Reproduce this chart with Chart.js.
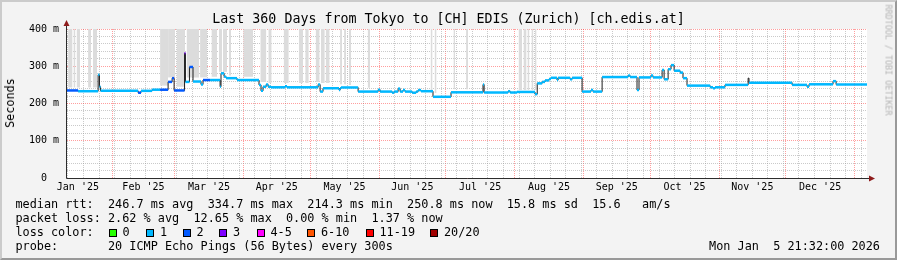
<!DOCTYPE html>
<html>
<head>
<meta charset="utf-8">
<script src="https://cdn.jsdelivr.net/npm/chart.js@4.4.1/dist/chart.umd.min.js"></script>
<style>
    html, body { margin: 0; padding: 0; background: #f3f3f3; }
    #wrap { position: relative; width: 897px; height: 260px; overflow: hidden; font-family: 'DejaVu Sans Mono', monospace; color: #000; }
    #frame { position: absolute; left: 0; top: 0; width: 897px; height: 260px; box-sizing: border-box; border: 2px solid; border-color: #cbcbcb #999 #999 #cbcbcb; pointer-events: none; }
    canvas { position: absolute; left: 0; top: 0; }
    .t { position: absolute; white-space: pre; font-size: 11.83px; line-height: 14px; }
    .box { position: absolute; width: 6px; height: 6px; border: 1px solid #000; }
    #title { position: absolute; left: 0; top: 11px; width: 897px; text-align: center; font-size: 13.3px; line-height: 16px; white-space: pre; }
    #ylabel { position: absolute; left: 9.5px; top: 103px; transform: translate(-50%, -50%) rotate(-90deg); font-size: 11.8px; line-height: 12px; white-space: pre; }
    #mark { position: absolute; left: 888px; top: 60px; transform: translate(-50%, -50%) rotate(90deg); font-size: 8.4px; line-height: 9px; color: #b4b4b4; white-space: pre; }
</style>
</head>
<body>
<div id="wrap">
    <canvas id="chart" width="897" height="260"></canvas>
    <div id="title">Last 360 Days from Tokyo to [CH] EDIS (Zurich) [ch.edis.at]</div>
    <div id="ylabel">Seconds</div>
    <div id="mark">RRDTOOL / TOBI OETIKER</div>

    <span class="t" style="left:15.4px;top:197px">median rtt:  246.7 ms avg  334.7 ms max  214.3 ms min  250.8 ms now  15.8 ms sd  15.6   am/s</span>
    <span class="t" style="left:15.4px;top:211px">packet loss: 2.62 % avg  12.65 % max  0.00 % min  1.37 % now</span>
    <span class="t" style="left:15.4px;top:225px">loss color:</span>
    <div id="lossKey"></div>
    <span class="t" style="left:15.4px;top:239px">probe:       20 ICMP Echo Pings (56 Bytes) every 300s</span>
    <span class="t" style="right:17px;top:239px">Mon Jan  5 21:32:00 2026</span>
    <div id="frame"></div>
</div>

<script>
// x axis is in days since 1 Jan 2025
const xMin = 10.6;
const xMax = 370.6;

const monthLabels = ["Jan '25", "Feb '25", "Mar '25", "Apr '25", "May '25", "Jun '25",
                     "Jul '25", "Aug '25", "Sep '25", "Oct '25", "Nov '25", "Dec '25"];
const monthStart = [0, 31, 59, 90, 120, 151, 181, 212, 243, 273, 304, 334, 365];
const firstSunday = 4;

// median rtt, one value per step (ms), held until the next step day
const stepDay = [10.6, 15.6, 24.6, 25.2, 25.7, 42.6, 43.9, 48.9, 52.5, 56.1, 57.9, 58.8, 63.5, 63.9, 65.7, 67.3,
    70.9, 71.8, 75.0, 79.5, 79.9, 81.3, 82.2, 87.1, 97.0, 97.9, 98.8, 100.2, 101.1, 102.4, 108.7, 109.6,
    123.6, 124.5, 125.8, 133.0, 133.5, 133.9, 141.6, 150.6, 151.5, 156.9, 157.8, 159.6, 160.5, 161.8, 162.7,
    165.9, 167.7, 168.6, 169.9, 175.3, 183.4, 197.8, 198.3, 209.1, 210.0, 213.1, 221.2, 222.2, 224.4, 225.7,
    227.5, 228.4, 231.1, 231.6, 237.0, 237.9, 242.4, 246.4, 247.3, 251.4, 263.1, 264.0, 267.1, 268.0, 273.4,
    274.3, 278.4, 279.3, 281.1, 282.4, 283.8, 286.5, 287.8, 289.6, 300.0, 301.3, 302.2, 306.7, 317.1, 317.5,
    336.9, 343.6, 344.5, 355.3, 356.7];
const medianMs = [235, 233, 277, 245, 234, 229, 234, 237, 237, 258, 268, 235, 335, 258, 298, 259,
    251, 263, 263, 245, 281, 272, 268, 263, 250, 234, 245, 251, 245, 243.5, 246, 243.5,
    251, 232, 241, 236, 241, 243, 232, 237, 232, 229, 232, 240, 232, 236, 232,
    229, 232, 236, 233, 218, 230, 251, 229.5, 233, 229.5, 231, 225, 254, 258, 262,
    266, 269, 263, 269, 265, 269, 232, 236, 232, 271, 275, 271, 236, 270, 275,
    270, 290, 265, 292, 303, 288, 283, 268, 248, 243.5, 241, 243.5, 250, 268, 256,
    250, 245, 251.5, 260, 251];
// loss bucket index per step (0 = no loss ... 7 = 20/20)
const lossIdx = [2, 1, 1, 1, 1, 2, 1, 1, 2, 2, 2, 2, 3, 1, 2, 1,
    1, 2, 1, 1, 1, 1, 1, 1, 1, 1, 1, 1, 1, 1, 1, 1,
    1, 1, 1, 1, 1, 1, 1, 1, 1, 1, 1, 1, 1, 1, 1,
    1, 1, 1, 1, 1, 1, 1, 1, 1, 1, 1, 1, 1, 1, 1,
    1, 1, 1, 1, 1, 1, 1, 1, 1, 1, 1, 1, 1, 1, 1,
    1, 1, 1, 1, 1, 1, 1, 1, 1, 1, 1, 1, 1, 1, 1,
    1, 1, 1, 1, 1];

const lossLabels = ['0', '1', '2', '3', '4-5', '6-10', '11-19', '20/20'];
const lossColors = ['#26ff00', '#00b8ff', '#0059ff', '#7e00ff', '#ff00ff', '#ff5500', '#ff0000', '#a10000'];

// smoke bands (pings above the median, clipped at the top)
const smokeFrom = [11.1, 13.5, 14.9, 20.1, 22.3, 52.5, 56.1, 59.9, 64.4, 70.5, 75.6, 79.0, 80.8, 83.5, 89.9,
    97.6, 101.2, 108.1, 114.9, 117.8, 122.5, 124.8, 127.0, 133.5, 135.3, 137.4, 145.9, 174.2, 176.0,
    184.5, 190.2, 213.8, 216.0, 217.8, 219.6, 221.2];
const smokeTo = [13.1, 14.4, 16.5, 21.4, 24.1, 56.1, 59.2, 63.7, 70.0, 73.6, 78.1, 80.4, 82.6, 84.4, 94.4,
    100.3, 102.7, 110.4, 116.9, 119.4, 124.3, 126.6, 128.8, 134.4, 136.2, 138.5, 147.0, 175.1, 176.9,
    185.2, 191.1, 215.4, 217.4, 218.7, 220.5, 221.9];
const smokeLow = [243, 243, 243, 243, 243, 248, 270, 245, 270, 270, 272, 285, 285, 275, 272,
    258, 255, 255, 255, 255, 258, 255, 255, 252, 252, 250, 242, 228, 228,
    238, 238, 236, 236, 236, 236, 236];

// layout of the loss colour key
const lossKeyX = [108.7, 145.7, 182.7, 219.3, 256.7, 306.7, 365.7, 430];
const lossKeyTextX = [122.5, 160, 196.5, 233, 270.5, 321, 379.5, 444];

const key = document.getElementById('lossKey');
lossLabels.forEach(function (lab, i) {
    const b = document.createElement('div');
    b.className = 'box';
    b.style.left = lossKeyX[i] + 'px';
    b.style.top = '228.5px';
    b.style.background = lossColors[i];
    key.appendChild(b);
    const s = document.createElement('span');
    s.className = 't';
    s.style.left = lossKeyTextX[i] + 'px';
    s.style.top = '225px';
    s.textContent = lab;
    key.appendChild(s);
});

// build datasets
const blackLine = stepDay.map((d, i) => ({ x: d, y: medianMs[i] }));
blackLine.push({ x: xMax, y: medianMs[medianMs.length - 1] });

const colorPieces = [];
stepDay.forEach(function (d, i) {
    const end = i + 1 < stepDay.length ? stepDay[i + 1] : xMax;
    colorPieces.push({ x: d, y: medianMs[i] });
    colorPieces.push({ x: end, y: medianMs[i] });
});

const smoke = [];
smokeFrom.forEach(function (d, i) {
    smoke.push({ x: d, y: smokeLow[i] });
    smoke.push({ x: smokeTo[i], y: smokeLow[i] });
    smoke.push({ x: smokeTo[i], y: null });
});

const monthMid = monthLabels.map((m, i) => (monthStart[i] + monthStart[i + 1]) / 2);
const weekDays = [];
for (let d = firstSunday; d <= xMax; d += 7) weekDays.push(d);

const gridGray = 'rgba(150,150,150,0.5)';
const gridRed = 'rgba(255,40,40,0.45)';
const tickFont = { family: 'DejaVu Sans Mono', size: 10 };

const framePlugin = {
    id: 'framePlugin',
    beforeDraw(chart) {
        const { ctx, chartArea: a } = chart;
        ctx.save();
        ctx.fillStyle = '#ffffff';
        ctx.fillRect(a.left, a.top, a.right - a.left, a.bottom - a.top);
        ctx.restore();
    },
    afterDraw(chart) {
        const { ctx, chartArea: a } = chart;
        const x0 = a.left - 0.5, y0 = a.bottom + 0.5;
        ctx.save();
        ctx.strokeStyle = '#2c2c2c';
        ctx.lineWidth = 1;
        ctx.beginPath();
        ctx.moveTo(x0, y0);
        ctx.lineTo(x0, a.top - 4);
        ctx.moveTo(x0, y0);
        ctx.lineTo(a.right + 2, y0);
        ctx.stroke();
        ctx.fillStyle = '#8e1b1b';
        ctx.beginPath();
        ctx.moveTo(x0, a.top - 9);
        ctx.lineTo(x0 - 3, a.top - 3);
        ctx.lineTo(x0 + 3, a.top - 3);
        ctx.closePath();
        ctx.fill();
        ctx.beginPath();
        ctx.moveTo(a.right + 8, y0);
        ctx.lineTo(a.right + 2, y0 - 3);
        ctx.lineTo(a.right + 2, y0 + 3);
        ctx.closePath();
        ctx.fill();
        ctx.restore();
    }
};

new Chart(document.getElementById('chart'), {
    type: 'line',
    data: {
        datasets: [
            {
                label: 'loss',
                data: colorPieces,
                borderWidth: 2.5,
                pointRadius: 0,
                fill: false,
                order: 1,
                segment: {
                    borderColor: c => c.p0DataIndex % 2 === 0 ? lossColors[lossIdx[c.p0DataIndex / 2]] : 'rgba(0,0,0,0)'
                }
            },
            {
                label: 'median',
                data: blackLine,
                borderColor: '#1e1e1e',
                borderWidth: 1,
                stepped: true,
                pointRadius: 0,
                fill: false,
                order: 2
            },
            {
                label: 'smoke',
                data: smoke,
                borderWidth: 0,
                borderColor: 'rgba(0,0,0,0)',
                backgroundColor: '#dcdcdc',
                pointRadius: 0,
                spanGaps: false,
                fill: 'end',
                order: 3
            }
        ]
    },
    options: {
        responsive: false,
        animation: false,
        devicePixelRatio: 1,
        layout: { autoPadding: false, padding: { top: 29, right: 30, left: 0, bottom: 0 } },
        plugins: { legend: { display: false }, tooltip: { enabled: false } },
        scales: {
            x: {
                type: 'linear',
                min: xMin,
                max: xMax,
                z: 1,
                afterFit(scale) { scale.height = 82; },
                afterBuildTicks(scale) {
                    const vals = weekDays.concat(monthStart, monthMid).filter(v => v >= xMin && v <= xMax);
                    scale.ticks = Array.from(new Set(vals)).sort((a, b) => a - b).map(v => ({ value: v }));
                },
                grid: {
                    drawTicks: false,
                    lineWidth: 1,
                    color(c) {
                        const v = c.tick ? c.tick.value : null;
                        if (monthStart.includes(v)) return gridRed;
                        if (weekDays.includes(v)) return gridGray;
                        return 'rgba(0,0,0,0)';
                    }
                },
                border: { display: false, dash: [1, 1] },
                ticks: {
                    autoSkip: false,
                    maxRotation: 0,
                    padding: 3,
                    color: '#000',
                    font: tickFont,
                    callback(v) {
                        const i = monthMid.indexOf(v);
                        return i >= 0 ? monthLabels[i] : '';
                    }
                }
            },
            y: {
                min: 0,
                max: 400,
                z: 1,
                afterFit(scale) { scale.width = 67; },
                grid: {
                    drawTicks: false,
                    lineWidth: 1,
                    color: c => (c.tick && c.tick.value % 100 === 0) ? gridRed : gridGray
                },
                border: { display: false, dash: [1, 1] },
                ticks: {
                    stepSize: 20,
                    autoSkip: false,
                    padding: 8,
                    color: '#000',
                    font: tickFont,
                    callback: v => v % 100 !== 0 ? '' : (v === 0 ? '0  ' : v + ' m')
                }
            }
        }
    },
    plugins: [framePlugin]
});
</script>
</body>
</html>
